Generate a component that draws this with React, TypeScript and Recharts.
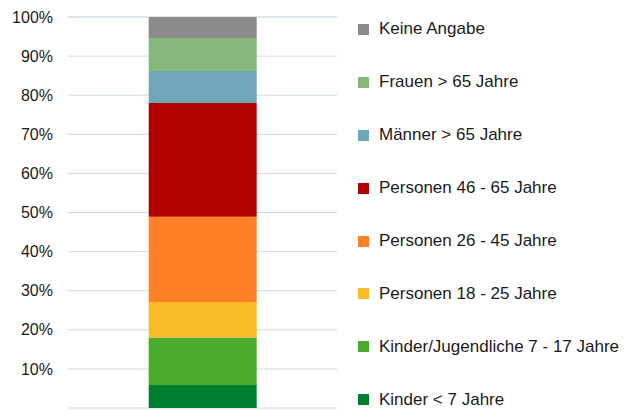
import React from 'react';
import { BarChart, Bar, XAxis, YAxis, CartesianGrid } from 'recharts';

// bottom -> top of the stack
const SERIES = [
  'Kinder < 7 Jahre',
  'Kinder/Jugendliche 7 - 17 Jahre',
  'Personen 18 - 25 Jahre',
  'Personen 26 - 45 Jahre',
  'Personen 46 - 65 Jahre',
  'Männer > 65 Jahre',
  'Frauen > 65 Jahre',
  'Keine Angabe',
];
const SHARES = [5.9, 12.1, 9.1, 21.8, 29.1, 8.2, 8.4, 5.4];
const COLORS = ['#007d30', '#4aab2d', '#f9bc27', '#fe8128', '#b00000', '#70a6b8', '#86b87c', '#8c8c8c'];
const Y_TICKS = [0, 10, 20, 30, 40, 50, 60, 70, 80, 90, 100];

const FONT = '"Liberation Sans", Arial, sans-serif';

const row: Record<string, number | string> = { name: 'Gesamt' };
SERIES.forEach((s, i) => {
  row[s] = SHARES[i];
});
const data = [row];

// legend lists the series top -> bottom, like the stack
const LegendList = () => (
  <ul style={{ position: 'absolute', left: 358, top: 3, listStyle: 'none', margin: 0, padding: 0, fontFamily: FONT }}>
    {SERIES.map((s, i) => ({ s, c: COLORS[i] }))
      .reverse()
      .map(({ s, c }) => (
        <li key={s} style={{ display: 'flex', alignItems: 'center', height: 52.9 }}>
          <span style={{ display: 'inline-block', width: 11, height: 11, background: c, marginRight: 10 }} />
          <span style={{ fontSize: 17, color: '#1a1a1a', whiteSpace: 'nowrap' }}>{s}</span>
        </li>
      ))}
  </ul>
);

export default function App() {
  return (
    <div style={{ position: 'absolute', left: 0, top: 0, width: 632, height: 410 }}>
      <BarChart
        width={632}
        height={410}
        data={data}
        margin={{ top: 17, right: 295, bottom: 2, left: 8 }}
        barCategoryGap="30%"
        style={{ fontFamily: FONT }}
      >
        <CartesianGrid vertical={false} stroke="#cfdde3" />
        <XAxis dataKey="name" hide />
        <YAxis
          width={60}
          domain={[0, 100]}
          ticks={Y_TICKS}
          interval={0}
          axisLine={false}
          tickLine={false}
          tickSize={0}
          tickMargin={15}
          tick={{ fontSize: 16, fill: '#1a1a1a' }}
          tickFormatter={(v: number) => (v === 0 ? '' : `${v}%`)}
        />
        {SERIES.map((s, i) => (
          <Bar key={s} dataKey={s} stackId="a" fill={COLORS[i]} isAnimationActive={false} />
        ))}
      </BarChart>
      <LegendList />
    </div>
  );
}
